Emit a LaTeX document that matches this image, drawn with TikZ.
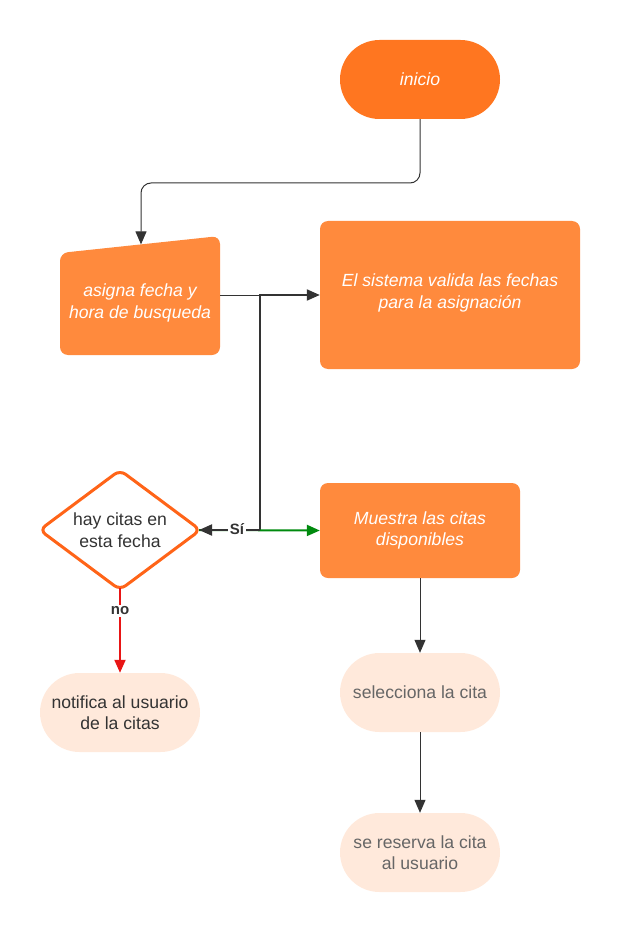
\documentclass[tikz,border=0pt]{standalone}
\usepackage{fontspec}
\setmainfont{Liberation Sans}
\usetikzlibrary{shapes.geometric,shapes.misc,arrows.meta}
\definecolor{orA}{HTML}{FF7620}
\definecolor{orB}{HTML}{FF8A3D}
\definecolor{orS}{HTML}{FF6418}
\definecolor{peach}{HTML}{FFE9DB}
\definecolor{dk}{HTML}{333333}
\definecolor{gr}{HTML}{666666}
\definecolor{grn}{HTML}{008A0E}
\definecolor{rd}{HTML}{E81515}
\begin{document}
\begin{tikzpicture}[x=1pt,y=-1pt,
  font=\fontsize{17.6}{21.5}\selectfont,
  term/.style={rounded rectangle, minimum width=160, minimum height=79, inner sep=0, align=center},
  proc/.style={rectangle, rounded corners=8, fill=orB, text=white, inner sep=0, align=center, font=\fontsize{17.6}{21.5}\selectfont\itshape},
  soft/.style={term, fill=peach},
  arr/.style={-{Triangle[length=13pt,width=11pt]}},
  lbl/.style={fill=white, inner sep=1.5, text=dk, font=\fontsize{15}{18}\selectfont\bfseries}]
\useasboundingbox (0,0) rectangle (620,933);

% nodes
\node[term, fill=orA, text=white, font=\fontsize{17.6}{21.5}\selectfont\itshape] (inicio) at (420,79.5) {\raisebox{1.5pt}{inicio}};

\fill[orB, rounded corners=8] (60,253) -- (220,236) -- (220,355) -- (60,355) -- cycle;
\node[text=white, align=center, font=\fontsize{17.6}{21.5}\selectfont\itshape] (asigna) at (140,303) {asigna fecha y\\hora de busqueda};
\coordinate (asignaTop) at (141,244.4);
\coordinate (asignaE) at (220,295);

\node[proc, minimum width=260, minimum height=148] (valida) at (450,295) {};
\node[text=white, align=center, font=\fontsize{17.6}{21.5}\selectfont\itshape] (validaT) at (450,293) {El sistema valida las fechas\\para la asignación};

\node[diamond, aspect=1.345, minimum width=162, minimum height=121, inner sep=0, draw=orS, line width=3pt, rounded corners=7, fill=white, text=dk, align=center] (dec) at (120,530) {hay citas en\\esta fecha};
\coordinate (decE) at (199,530);
\coordinate (decS) at (120,588);

\node[proc, minimum width=200, minimum height=95] (muestra) at (420,530.5) {Muestra las citas\\disponibles};

\node[soft, text=dk] (notifica) at (120,712.5) {notifica al usuario\\de la citas};
\node[soft, text=gr] (selecciona) at (420,692.5) {selecciona la cita};
\node[soft, text=gr] (reserva) at (420,852.5) {se reserva la cita\\al usuario};

\coordinate (junc) at (260,530);

% connectors
\draw[dk, line width=1pt, arr, rounded corners=10] (inicio.south) -- (420,183) -- (141,183) -- (asignaTop);
\draw[dk, line width=1pt] (asignaE) -- (260,295);
\draw[dk, line width=2pt, arr] (junc) |- (valida.west);
\draw[grn, line width=2pt, arr] (decE) -- (muestra.west);
\draw[dk, line width=2pt, arr] (junc) -- (decE);
\node[lbl] (si) at (237,529) {Sí};
\draw[rd, line width=2pt, arr] (decS) -- (notifica.north);
\node[lbl] (no) at (120,611) {no};
\draw[dk, line width=1pt, arr] (muestra.south) -- (selecciona.north);
\draw[dk, line width=1pt, arr] (selecciona.south) -- (reserva.north);
\end{tikzpicture}
\end{document}
